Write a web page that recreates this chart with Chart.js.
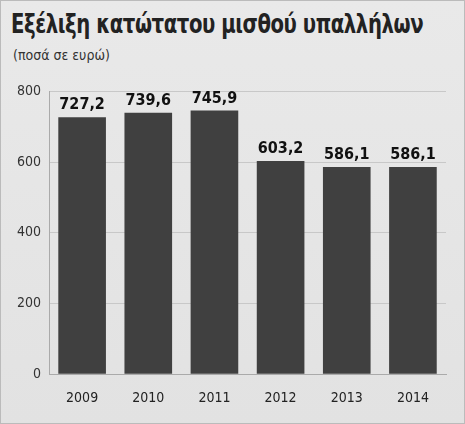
<!DOCTYPE html>
<html>
<head>
<meta charset="utf-8">
<script src="https://cdn.jsdelivr.net/npm/chart.js@4"></script>
<style>
  body { margin: 0; background: #fff; }
  #wrap { width: 463px; height: 422px; border: 1px solid #bbb; background: linear-gradient(#e9e9e9, #e2e2e2); position: relative; overflow: hidden; }
  h1 { margin: 0; position: absolute; left: 10px; top: 8px; font: bold 26px "DejaVu Sans Condensed", "DejaVu Sans"; color: #222; white-space: nowrap; transform: scaleX(0.84); transform-origin: left top; letter-spacing: -0.5px; }
  h2 { margin: 0; position: absolute; left: 12px; top: 46px; font: 14px "DejaVu Sans Condensed", "DejaVu Sans"; color: #333; white-space: nowrap; }
  #box { position: absolute; left: 0; top: 74px; width: 463px; height: 346px; }
</style>
</head>
<body>
<div id="wrap">
  <h1>Εξέλιξη κατώτατου μισθού υπαλλήλων</h1>
  <h2>(ποσά σε ευρώ)</h2>
  <div id="box"><canvas id="chart"></canvas></div>
</div>
<script>
const years = ['2009', '2010', '2011', '2012', '2013', '2014'];
const wages = [727.2, 739.6, 745.9, 603.2, 586.1, 586.1];
const yTicks = [0, 200, 400, 600, 800];

const font = '"DejaVu Sans Condensed", "DejaVu Sans"';

// values above each bar, Greek decimal comma
const barLabels = {
    id: 'barLabels',
    afterDatasetsDraw(chart) {
        const ctx = chart.ctx;
        const meta = chart.getDatasetMeta(0);
        ctx.save();
        ctx.font = 'bold 16px ' + font;
        ctx.fillStyle = '#111';
        ctx.textAlign = 'center';
        ctx.textBaseline = 'bottom';
        meta.data.forEach((bar, i) => {
            ctx.fillText(wages[i].toFixed(1).replace('.', ','), bar.x, bar.y - 4);
        });
        ctx.restore();
    }
};

const ctx1 = document.getElementById('chart').getContext('2d');
const wageChart = new Chart(ctx1, {
    type: 'bar',
    data: {
        labels: years,
        datasets: [{
            data: wages,
            backgroundColor: '#404040',
            categoryPercentage: 0.72,
            barPercentage: 1
        }]
    },
    options: {
        responsive: true,
        maintainAspectRatio: false,
        animation: false,
        layout: { padding: { left: 8, right: 18, top: 14, bottom: 6 } },
        plugins: {
            legend: { display: false },
            tooltip: { enabled: false }
        },
        scales: {
            x: {
                grid: { display: false },
                border: { color: '#aaa' },
                ticks: { color: '#222', padding: 8, font: { family: font, size: 14 } }
            },
            y: {
                min: 0,
                max: 800,
                afterBuildTicks: axis => { axis.ticks = yTicks.map(v => ({ value: v })); },
                grid: { color: '#c8c8c8', drawTicks: false },
                border: { color: '#aaa' },
                ticks: { color: '#333', padding: 8, font: { family: font, size: 14 } }
            }
        }
    },
    plugins: [barLabels]
});
</script>
</body>
</html>
